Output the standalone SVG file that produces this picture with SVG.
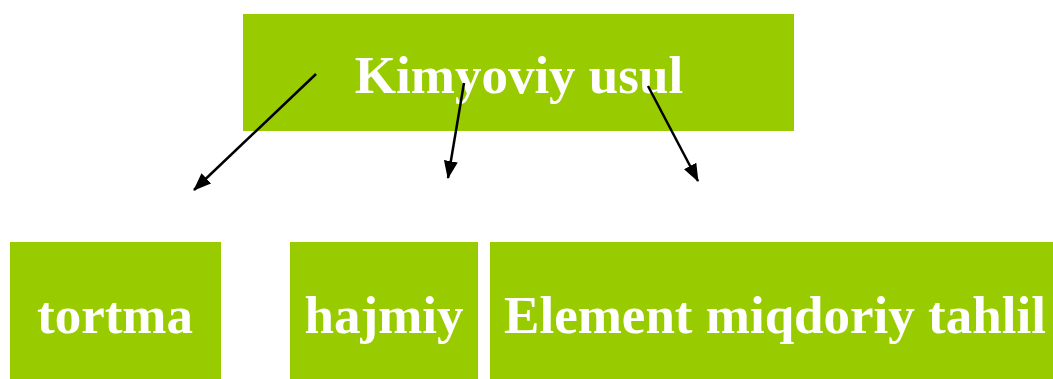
<svg xmlns="http://www.w3.org/2000/svg" width="1053" height="379" viewBox="0 0 1053 379">
<style>
.box{fill:#99CC00;}
.lbl{fill:#FFFFFF;font-family:"Liberation Serif","Times New Roman",serif;font-weight:bold;font-size:53px;text-anchor:middle;}
.conn{stroke:#000000;stroke-width:2.5;fill:none;}
</style>
<defs>
<marker id="ah" markerUnits="userSpaceOnUse" markerWidth="18" markerHeight="14" refX="17" refY="7" orient="auto">
<path d="M0,0 L18,7 L0,14 Z" fill="#000000"/>
</marker>
</defs>
<rect width="1053" height="379" fill="#FFFFFF"/>
<g id="node-kimyoviy">
<rect class="box" x="243" y="14" width="551" height="117"/>
<text class="lbl" x="519" y="93">Kimyoviy usul</text>
</g>
<g id="node-tortma">
<rect class="box" x="10" y="242" width="211" height="137"/>
<text class="lbl" x="115" y="333">tortma</text>
</g>
<g id="node-hajmiy">
<rect class="box" x="290" y="242" width="188" height="137"/>
<text class="lbl" x="384" y="333">hajmiy</text>
</g>
<g id="node-element">
<rect class="box" x="490" y="242" width="563" height="137"/>
<text class="lbl" x="775" y="333">Element miqdoriy tahlil</text>
</g>
<g id="connectors">
<line class="conn" x1="316" y1="74" x2="194" y2="190" marker-end="url(#ah)"/>
<line class="conn" x1="464" y1="83" x2="448" y2="178" marker-end="url(#ah)"/>
<line class="conn" x1="648" y1="86" x2="698" y2="181" marker-end="url(#ah)"/>
</g>
</svg>
